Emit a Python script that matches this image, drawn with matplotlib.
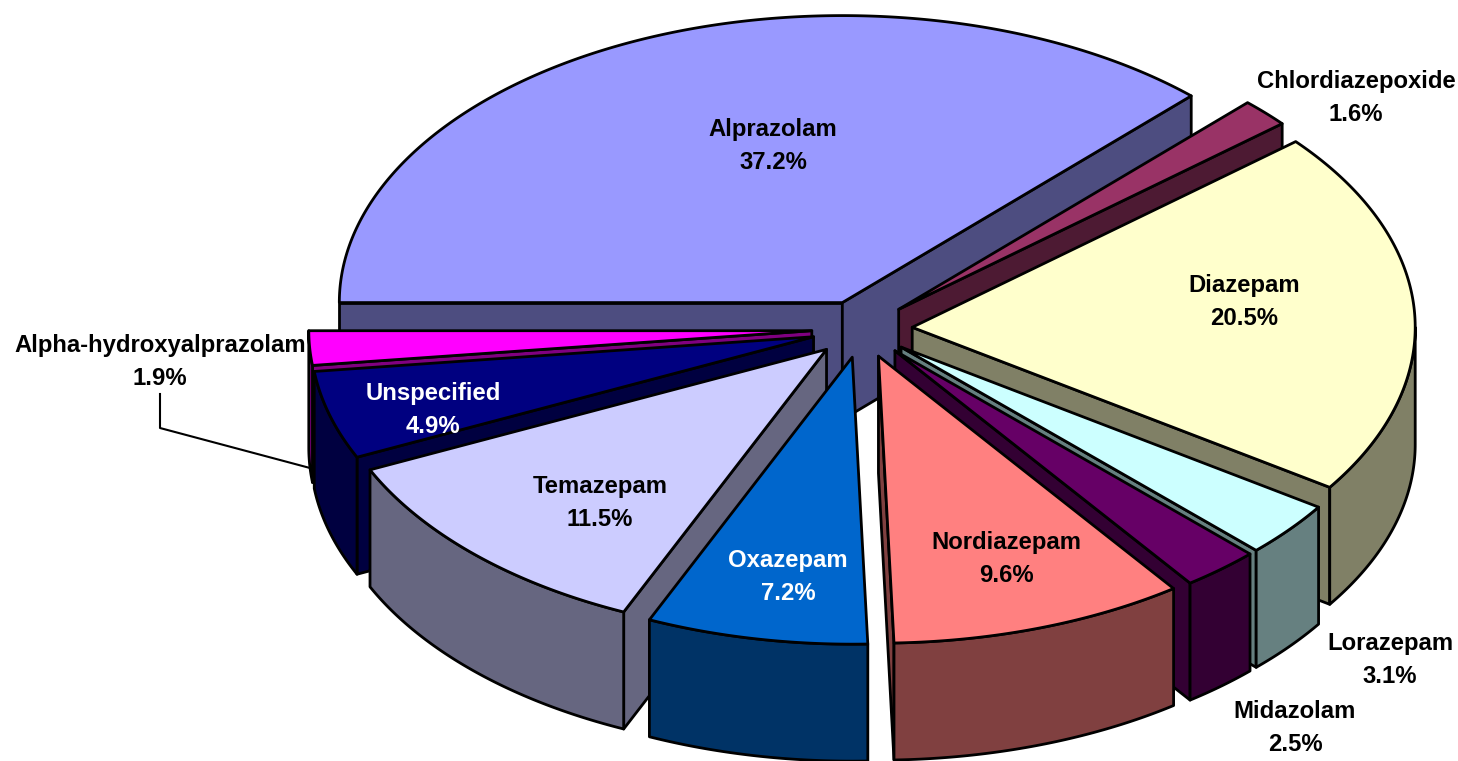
import numpy as np
import matplotlib
matplotlib.use("Agg")
import matplotlib.pyplot as plt
from matplotlib.patches import Polygon

drugs = ["Alprazolam", "Chlordiazepoxide", "Diazepam", "Lorazepam", "Midazolam",
         "Nordiazepam", "Oxazepam", "Temazepam", "Unspecified", "Alpha-hydroxyalprazolam"]
shares = [37.2, 1.6, 20.5, 3.1, 2.5, 9.6, 7.2, 11.5, 4.9, 1.9]
top_colors = ["#9999FF", "#993366", "#FFFFCC", "#CCFFFF", "#660066",
              "#FF8080", "#0066CC", "#CCCCFF", "#000080", "#FF00FF"]
side_colors = ["#4D4D80", "#4D1A33", "#808066", "#668080", "#330033",
               "#804040", "#003366", "#666680", "#000040", "#800080"]
text_colors = ["black", "black", "black", "black", "black",
               "black", "white", "black", "white", "black"]
label_xy = [(773, 146), (1356, 98), (1244, 302), (1390, 660), (1295, 728),
            (1006, 559), (788, 577), (600, 503), (433, 410), (160, 362)]

# pie shape in pixels
cx, cy = 862, 329
rx, ry = 503, 287
depth = 117
explode = 0.1
start_angle = 180
front_pull = 0.45  # degrees, front of the pie leans a little like the 3D original

plt.rcParams['font.family'] = ['Liberation Sans', 'DejaVu Sans']

fig = plt.figure(figsize=(14.58, 7.61), dpi=100)
ax = fig.add_axes([0, 0, 1, 1])
ax.set_xlim(0, 1458)
ax.set_ylim(761, 0)
ax.axis("off")

fractions = np.array(shares) / sum(shares)
ends = start_angle - np.cumsum(fractions) * 360
starts = ends + fractions * 360
mids = (starts + ends) / 2


def on_rim(x0, y0, angs):
    angs = np.asarray(angs, dtype=float)
    # only the lower half gets the small pull
    pull = np.where(angs < 0, front_pull * np.sin(np.radians(2 * angs)), 0)
    rad = np.radians(angs + pull)
    return np.column_stack([x0 + rx * np.cos(rad), y0 - ry * np.sin(rad)])


def rim(x0, y0, a1, a2):
    return on_rim(x0, y0, np.linspace(a1, a2, max(2, int(abs(a1 - a2) * 2))))


def add_face(points, color, z):
    ax.add_patch(Polygon(points, closed=True, facecolor=color, edgecolor="black",
                         linewidth=2, joinstyle="round", zorder=z))


def add_wall(x0, y0, ang, color, z):
    x1, y1 = on_rim(x0, y0, [ang])[0]
    add_face([(x0, y0), (x1, y1), (x1, y1 + depth), (x0, y0 + depth)], color, z)


# back slices first
order = np.argsort(-np.sin(np.radians(mids)))
for z, i in enumerate(order):
    z = z * 5 + 1
    m = np.radians(mids[i])
    x0 = cx + explode * rx * np.cos(m)
    y0 = cy - explode * ry * np.sin(m)
    # side walls that face the viewer
    if np.cos(np.radians(starts[i])) < 0:
        add_wall(x0, y0, starts[i], side_colors[i], z)
    if np.cos(np.radians(ends[i])) > 0:
        add_wall(x0, y0, ends[i], side_colors[i], z)
    # outer wall, lower half of the ellipse only
    a1 = starts[i]
    a2 = ends[i]
    if a1 > 0 and a2 < 0:
        a1 = 0
    if a2 < -180:
        a2 = -180
    if a1 <= 0 and a2 < a1:
        front = rim(x0, y0, a1, a2)
        add_face(np.vstack([front, front[::-1] + [0, depth]]), side_colors[i], z + 1)
    add_face(np.vstack([[(x0, y0)], rim(x0, y0, starts[i], ends[i])]), top_colors[i], z + 2)

for i in range(len(drugs)):
    ax.text(label_xy[i][0], label_xy[i][1], f"{drugs[i]}\n{shares[i]:.1f}%", color=text_colors[i],
            fontsize=17.2, fontweight="bold", ha="center", va="center",
            linespacing=1.52, zorder=200)

# leader for the small slice
ax.plot([160, 160, 310], [394, 428, 468], color="black", lw=1.5, zorder=150)

fig.savefig("out.png", dpi=100)
